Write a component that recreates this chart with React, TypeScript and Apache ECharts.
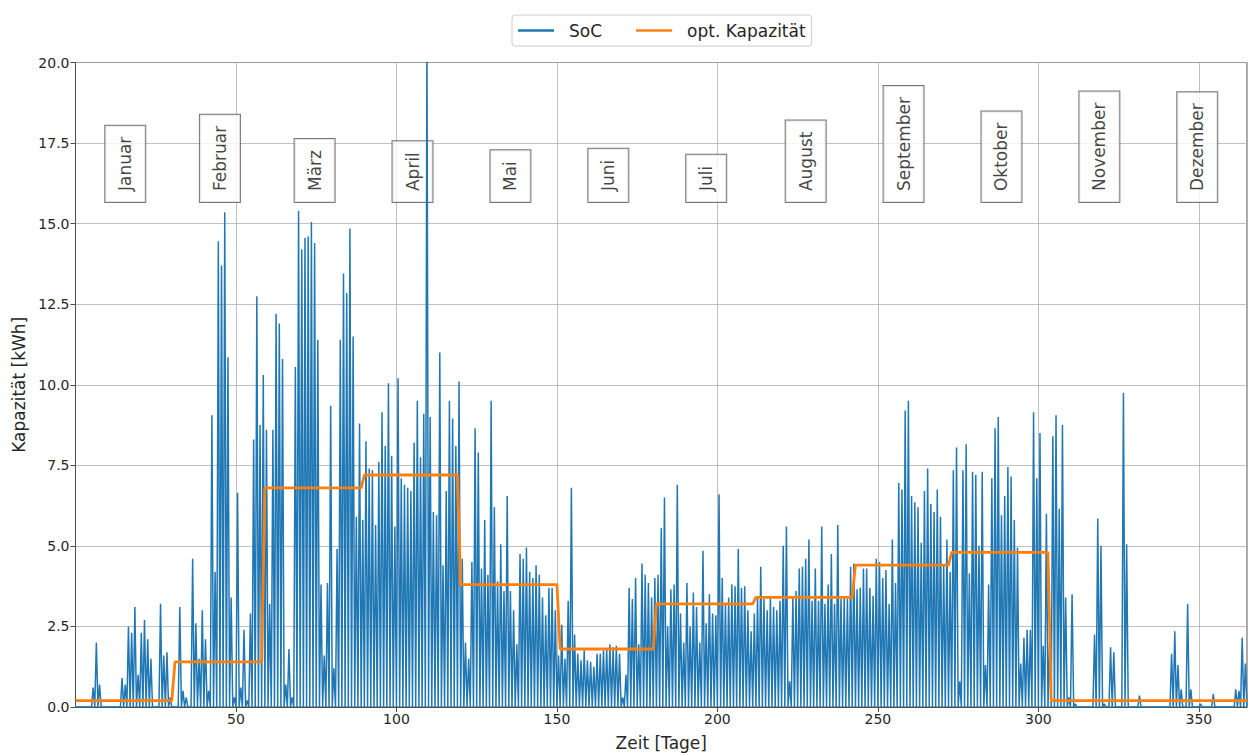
import React, { useEffect, useRef } from 'react';
import * as echarts from 'echarts';

const FONT = '"DejaVu Sans", "Liberation Sans", sans-serif';
const TEXT = '#262626';
const AXIS = '#4d4d4d';
const GRIDLINE = '#b0b0b0';

const monthNames = ['Januar', 'Februar', 'März', 'April', 'Mai', 'Juni', 'Juli', 'August', 'September', 'Oktober', 'November', 'Dezember'];
const monthLengths = [31, 28, 31, 30, 31, 30, 31, 31, 30, 31, 30, 31];
// optimal capacity per month [kWh]
const optCapacity = [0.2, 1.4, 6.8, 7.2, 3.8, 1.8, 3.2, 3.4, 4.4, 4.8, 0.2, 0.2];
// y value of the lower edge of the month annotations
const monthLabelValue = 15.67;

// daily peak of the state of charge [kWh], one value per day
const socJan = [0, 0, 0, 0, 0, 0.6, 2.0, 0.7, 0, 0, 0, 0, 0, 0, 0.9, 0.7, 2.5, 2.3, 3.1, 1.0, 2.3, 2.7, 2.1, 1.5, 0, 0, 3.2, 1.6, 1.7, 0.3, 0];
const socFeb = [0, 3.1, 0.5, 0.3, 0, 4.6, 2.6, 1.5, 3.0, 2.1, 0.5, 9.05, 4.2, 14.45, 13.7, 15.35, 10.85, 3.4, 0.3, 6.65, 0.6, 2.4, 0.2, 2.9, 8.3, 12.75, 8.75, 10.3];
const socMar = [8.6, 3.2, 8.6, 12.2, 11.9, 10.8, 0.7, 1.8, 0.3, 10.55, 15.4, 14.2, 14.55, 14.6, 15.05, 14.4, 11.4, 3.8, 1.6, 3.85, 9.35, 1.2, 4.9, 11.4, 13.45, 12.85, 14.85, 11.5, 5.9, 8.8, 5.8];
const socApr = [8.25, 7.4, 7.35, 5.65, 7.6, 9.15, 8.1, 10.05, 7.8, 5.6, 10.2, 7.1, 6.9, 6.8, 6.7, 8.2, 9.5, 7.75, 9.1, 21, 9.0, 6.05, 5.95, 11.0, 4.4, 6.7, 9.5, 8.95, 8.1, 10.1];
const socMay = [4.6, 2.0, 1.5, 4.5, 8.65, 7.9, 4.3, 5.8, 4.1, 9.5, 6.2, 3.9, 5.05, 3.6, 6.55, 3.6, 3.0, 1.95, 4.75, 4.6, 4.95, 4.2, 4.0, 4.4, 4.1, 3.4, 2.85, 3.7, 3.7, 3.0, 1.6];
const socJun = [2.55, 1.5, 3.3, 6.8, 2.25, 1.65, 1.45, 1.75, 1.45, 1.4, 1.25, 1.65, 1.65, 1.75, 1.8, 1.95, 1.85, 1.9, 1.65, 0.3, 1.0, 3.7, 3.35, 4.0, 1.95, 4.45, 4.1, 3.85, 3.4, 4.0];
const socJul = [4.1, 5.55, 6.5, 2.5, 3.65, 3.8, 6.9, 2.9, 2.0, 3.85, 2.5, 3.55, 3.1, 2.0, 4.85, 2.6, 3.5, 2.9, 2.85, 6.6, 4.0, 3.2, 3.4, 3.8, 3.75, 4.9, 3.7, 3.75, 3.0, 2.35, 2.9];
const socAug = [3.4, 4.35, 3.35, 3.0, 3.4, 3.1, 3.0, 3.3, 5.0, 5.6, 0.8, 3.4, 3.6, 4.3, 4.35, 4.6, 5.2, 3.3, 4.3, 3.3, 5.6, 3.2, 3.8, 4.75, 3.2, 5.65, 3.35, 3.4, 3.35, 4.35, 4.45];
const socSep = [3.65, 3.7, 4.3, 4.3, 3.7, 3.45, 4.6, 4.5, 4.0, 4.25, 3.2, 5.2, 3.85, 6.95, 6.75, 9.2, 9.5, 6.55, 6.35, 6.2, 5.1, 6.7, 7.4, 6.3, 6.05, 6.75, 5.9, 4.4, 5.2, 4.2];
const socOct = [7.35, 8.05, 0.8, 7.35, 8.15, 4.15, 7.3, 7.2, 5.0, 7.3, 1.3, 3.8, 7.1, 8.65, 9.0, 5.95, 6.55, 7.45, 7.15, 5.8, 4.95, 1.35, 2.15, 2.4, 2.4, 9.15, 7.1, 8.5, 1.9, 6.0, 2.0];
const socNov = [8.4, 9.05, 6.15, 8.75, 3.4, 0.3, 3.5, 0.1, 0, 0, 0, 0, 0, 2.25, 5.85, 5.0, 0.1, 0, 1.85, 1.7, 0, 0, 9.75, 5.05, 0, 0, 0, 0.35, 0, 0];
const socDec = [0, 0, 0, 0, 0, 0, 0, 1.65, 2.35, 1.3, 0.55, 0, 3.2, 0.55, 0, 0, 0.1, 0, 0, 0, 0.4, 0, 0, 0, 0, 0, 0, 0.55, 0.5, 2.15, 1.35];

const socDailyPeak = [
  ...socJan, ...socFeb, ...socMar, ...socApr, ...socMay, ...socJun,
  ...socJul, ...socAug, ...socSep, ...socOct, ...socNov, ...socDec,
];

export default function App() {
  const ref = useRef<HTMLDivElement>(null);

  useEffect(() => {
    if (!ref.current) return;
    const chart = echarts.init(ref.current, null, { renderer: 'svg' });

    const monthStarts = monthLengths.map((_, i) => monthLengths.slice(0, i).reduce((a, b) => a + b, 0));

    // each day: empty in the morning, peak around midday
    const socData: number[][] = [];
    socDailyPeak.forEach((p, d) => {
      socData.push([d, 0]);
      socData.push([d + 0.5, p]);
    });
    socData.push([socDailyPeak.length, 0]);

    const optData: number[][] = [];
    optCapacity.forEach((c, i) => {
      const s = monthStarts[i];
      const e = i === optCapacity.length - 1 ? s + monthLengths[i] : s + monthLengths[i] - 1;
      optData.push([s, c], [e, c]);
    });

    const labelData = monthNames.map((n, i) => ({
      name: n,
      value: [monthStarts[i] + monthLengths[i] / 2, monthLabelValue],
    }));

    chart.setOption({
      animation: false,
      backgroundColor: '#ffffff',
      textStyle: { fontFamily: FONT },
      legend: {
        left: 512,
        top: 15,
        padding: [5.5, 6],
        itemWidth: 36,
        itemHeight: 2.5,
        itemGap: 34,
        borderColor: '#cccccc',
        borderWidth: 1,
        borderRadius: 3,
        backgroundColor: '#ffffff',
        textStyle: { fontSize: 17, fontFamily: FONT, color: TEXT, lineHeight: 20, padding: [0, 0, 0, 10] },
        data: [
          { name: 'SoC', icon: 'rect' },
          { name: 'opt. Kapazität', icon: 'rect' },
        ],
      },
      grid: {
        left: 75.5,
        right: 3,
        top: 62.5,
        bottom: 46,
        show: true,
        borderColor: AXIS,
        borderWidth: 1,
        backgroundColor: 'transparent',
      },
      xAxis: {
        type: 'value',
        min: 0,
        max: 365,
        interval: 50,
        name: 'Zeit [Tage]',
        nameLocation: 'middle',
        nameGap: 27,
        nameTextStyle: { fontSize: 17, color: TEXT, fontFamily: FONT },
        axisLine: { show: true, onZero: false, lineStyle: { color: AXIS, width: 1 } },
        axisTick: { show: true, length: 5, lineStyle: { color: AXIS } },
        axisLabel: { fontSize: 14, color: TEXT, fontFamily: FONT, margin: 5, showMinLabel: false, showMaxLabel: false },
        splitLine: { show: true, lineStyle: { color: GRIDLINE, width: 0.8 } },
      },
      yAxis: {
        type: 'value',
        min: 0,
        max: 20,
        interval: 2.5,
        name: 'Kapazität [kWh]',
        nameLocation: 'middle',
        nameGap: 47,
        nameTextStyle: { fontSize: 17, color: TEXT, fontFamily: FONT },
        axisLine: { show: true, onZero: false, lineStyle: { color: AXIS, width: 1 } },
        axisTick: { show: true, length: 5, lineStyle: { color: AXIS } },
        axisLabel: {
          fontSize: 14,
          color: TEXT,
          fontFamily: FONT,
          margin: 6,
          formatter: (v: number) => v.toFixed(1),
        },
        splitLine: { show: true, lineStyle: { color: GRIDLINE, width: 0.8 } },
      },
      series: [
        {
          name: 'months',
          type: 'scatter',
          data: labelData,
          symbolSize: 1,
          itemStyle: { color: 'rgba(0,0,0,0)' },
          silent: true,
          z: 2,
          label: {
            show: true,
            formatter: '{b}',
            position: 'inside',
            rotate: 90,
            align: 'left',
            verticalAlign: 'middle',
            fontSize: 17,
            fontFamily: FONT,
            color: '#111111',
            textBorderWidth: 0,
            lineHeight: 20,
            padding: [10, 11],
            backgroundColor: '#ffffff',
            borderColor: '#555555',
            borderWidth: 1,
          },
        },
        {
          name: 'SoC',
          type: 'line',
          data: socData,
          showSymbol: false,
          symbol: 'none',
          lineStyle: { color: '#1f77b4', width: 1.5 },
          itemStyle: { color: '#1f77b4' },
          z: 3,
        },
        {
          name: 'opt. Kapazität',
          type: 'line',
          data: optData,
          showSymbol: false,
          symbol: 'none',
          lineStyle: { color: '#ff7f0e', width: 2.8 },
          itemStyle: { color: '#ff7f0e' },
          z: 4,
        },
      ],
    });

    return () => chart.dispose();
  }, []);

  return <div ref={ref} style={{ position: 'fixed', left: 0, top: 0, width: 1250, height: 756 }} />;
}
